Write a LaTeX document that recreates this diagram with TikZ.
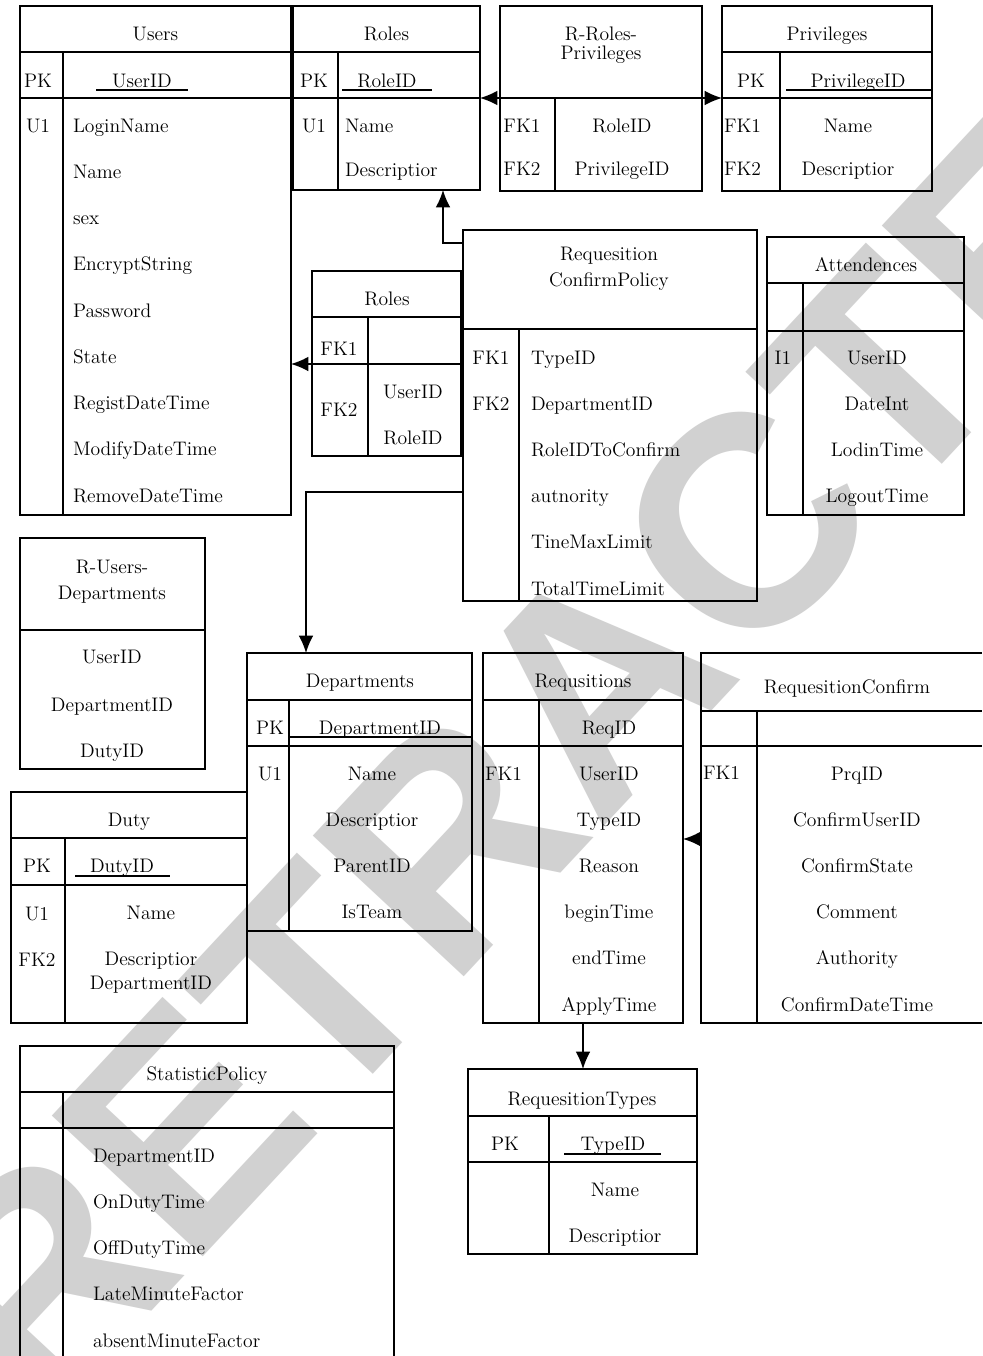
\documentclass[tikz,border=0pt]{standalone}
\usepackage{fontspec}
\newfontfamily\wmfont{Liberation Sans}
\usetikzlibrary{fit,arrows.meta}
\tikzset{
  every node/.style={inner sep=0pt, outer sep=0pt},
  txt/.style={anchor=base, yshift=-5.25pt, font=\fontsize{14.7}{17}\selectfont},
  txtw/.style={txt, anchor=base west},
  tb/.style={draw, line width=1.1pt, fit={#1}},
  ln/.style={line width=1.1pt},
  ul/.style={line width=0.8pt},
  arr/.style={line width=1.1pt, -{Latex[length=13pt,width=11pt]}},
  arrboth/.style={line width=1.1pt, {Latex[length=13pt,width=11pt]}-{Latex[length=13pt,width=11pt]}},
  wm/.style={text=black!18, font=\wmfont\bfseries\fontsize{225}{225}\selectfont},
}
\begin{document}
\begin{tikzpicture}[x=0.75pt,y=-0.75pt]
\fill[white] (0,0) rectangle (982,1356);
\useasboundingbox (0,0) rectangle (982,1356);
% watermark
\node[wm, rotate=47] (wmark) at (597,683) {RETRACTED};

% ---------------- Users
\node[tb={(20,6) (291,515)}] (users) {};
\draw[ln] (20,52) -- (291,52) (20,98) -- (291,98) (63,52) -- (63,515);
\node[txt] (users-t) at (155.5,33) {Users};
\node[txt] (users-pk) at (38,80) {PK};
\node[txt] (users-id) at (142,80) {UserID};
\draw[ul] (96,90) -- (188,90);
\node[txt] (users-u1) at (38,125) {U1};
\foreach \t [count=\i] in {LoginName,Name,sex,EncryptString,Password,State,RegistDateTime,ModifyDateTime,RemoveDateTime}
  \node[txtw] (users-f\i) at (73,{125+46.25*(\i-1)}) {\t};

% ---------------- Roles
\node[tb={(293,6) (480,190)}] (roles) {};
\draw[ln] (293,52) -- (480,52) (293,98) -- (480,98) (338,52) -- (338,190);
\node[txt] (roles-t) at (386.5,33) {Roles};
\node[txt] (roles-pk) at (314,80) {PK};
\node[txt] (roles-id) at (387,80) {RoleID};
\draw[ul] (342,90) -- (432,90);
\node[txt] (roles-u1) at (314,125) {U1};
\node[txtw] (roles-f1) at (345,125) {Name};
\node[txtw] (roles-f2) at (345,169) {Descriptior};

% ---------------- R-Roles-Privileges
\node[tb={(500,6) (702,191)}] (rrp) {};
\draw[ln] (500,98) -- (702,98) (555,98) -- (555,191);
\node[txt] (rrp-t1) at (601,33) {R-Roles-};
\node[txt] (rrp-t2) at (601,52) {Privileges};
\node[txt] (rrp-k1) at (522,125) {FK1};
\node[txt] (rrp-f1) at (622,125) {RoleID};
\node[txt] (rrp-k2) at (522,168) {FK2};
\node[txt] (rrp-f2) at (622,168) {PrivilegeID};

% ---------------- Privileges
\node[tb={(722,6) (932,191)}] (priv) {};
\draw[ln] (722,52) -- (932,52) (722,98) -- (932,98) (780,52) -- (780,191);
\node[txt] (priv-t) at (827,33) {Privileges};
\node[txt] (priv-pk) at (751,80) {PK};
\node[txt] (priv-id) at (858,80) {PrivilegeID};
\draw[ul] (786,90) -- (932,90);
\node[txtw] (priv-k1) at (724,125) {FK1};
\node[txt] (priv-f1) at (848,125) {Name};
\node[txtw] (priv-k2) at (724,168) {FK2};
\node[txt] (priv-f2) at (848,168) {Descriptior};

% ---------------- Requesition ConfirmPolicy
\node[tb={(463,230) (757,601)}] (rcp) {};
\draw[ln] (463,329) -- (757,329) (519,329) -- (519,601);
\node[txt] (rcp-t1) at (609,253) {Requesition};
\node[txt] (rcp-t2) at (609,279) {ConfirmPolicy};
\node[txt] (rcp-k1) at (491,357) {FK1};
\node[txt] (rcp-k2) at (491,403) {FK2};
\foreach \t [count=\i] in {TypeID,DepartmentID,RoleIDToConfirm,autnority,TineMaxLimit,TotalTimeLimit}
  \node[txtw] (rcp-f\i) at (531,{357+46.2*(\i-1)}) {\t};

% ---------------- Roles (second)
\node[tb={(312,271) (461,456)}] (roles2) {};
\draw[ln] (312,317) -- (461,317) (312,364) -- (461,364) (368,317) -- (368,456);
\node[txt] (roles2-t) at (387,298) {Roles};
\node[txt] (roles2-k1) at (339,348) {FK1};
\node[txt] (roles2-k2) at (339,409) {FK2};
\node[txt] (roles2-f1) at (413,391) {UserID};
\node[txt] (roles2-f2) at (413,437) {RoleID};

% ---------------- Attendences
\node[tb={(767,237) (964,515)}] (att) {};
\draw[ln] (767,283) -- (964,283) (767,331) -- (964,331) (803,283) -- (803,515);
\node[txt] (att-t) at (866,264) {Attendences};
\node[txt] (att-i1) at (783,357) {I1};
\foreach \t [count=\i] in {UserID,DateInt,LodinTime,LogoutTime}
  \node[txt] (att-f\i) at (877,{357+46*(\i-1)}) {\t};

% ---------------- R-Users-Departments
\node[tb={(20,538) (205,769)}] (rud) {};
\draw[ln] (20,630) -- (205,630);
\node[txt] (rud-t1) at (112,566) {R-Users-};
\node[txt] (rud-t2) at (112,592) {Departments};
\node[txt] (rud-f1) at (112,656) {UserID};
\node[txt] (rud-f2) at (112,704) {DepartmentID};
\node[txt] (rud-f3) at (112,750) {DutyID};

% ---------------- Departments
\node[tb={(247,653) (472,931)}] (dept) {};
\draw[ln] (247,700) -- (472,700) (247,746) -- (472,746) (289,700) -- (289,931);
\node[txt] (dept-t) at (360,680) {Departments};
\node[txt] (dept-pk) at (270,727) {PK};
\node[txt] (dept-id) at (380,727) {DepartmentID};
\draw[ul] (290,737) -- (471,737);
\node[txt] (dept-u1) at (270,773) {U1};
\foreach \t [count=\i] in {Name,Descriptior,ParentID,IsTeam}
  \node[txt] (dept-f\i) at (372,{773+46.3*(\i-1)}) {\t};

% ---------------- Duty
\node[tb={(11,792) (247,1023)}] (duty) {};
\draw[ln] (11,838) -- (247,838) (11,885) -- (247,885) (65,838) -- (65,1023);
\node[txt] (duty-t) at (129,819) {Duty};
\node[txt] (duty-pk) at (37,865) {PK};
\node[txt] (duty-id) at (122,865) {DutyID};
\draw[ul] (75,876) -- (170,876);
\node[txt] (duty-u1) at (37,913) {U1};
\node[txt] (duty-f1) at (151,912) {Name};
\node[txt] (duty-k2) at (37,959) {FK2};
\node[txt] (duty-f2) at (151,958) {Descriptior};
\node[txt] (duty-f3) at (151,982) {DepartmentID};

% ---------------- Requsitions
\node[tb={(483,653) (683,1023)}] (reqs) {};
\draw[ln] (483,700) -- (683,700) (483,746) -- (683,746) (539,700) -- (539,1023);
\node[txt] (reqs-t) at (583,680) {Requsitions};
\node[txt] (reqs-id) at (609,727) {ReqID};
\node[txtw] (reqs-k1) at (485,773) {FK1};
\foreach \t [count=\i] in {UserID,TypeID,Reason,beginTime,endTime,ApplyTime}
  \node[txt] (reqs-f\i) at (609,{773+46.2*(\i-1)}) {\t};

% ---------------- RequesitionConfirm
\node[fit={(701,653) (982,1023)}] (rc) {};
\draw[ln] (982,653) -- (701,653) -- (701,1023) -- (982,1023)
  (701,711) -- (982,711) (701,746) -- (982,746) (757,711) -- (757,1023);
\node[txt] (rc-t) at (847,686) {RequesitionConfirm};
\node[txtw] (rc-k1) at (703,772) {FK1};
\foreach \t [count=\i] in {PrqID,ConfirmUserID,ConfirmState,Comment,Authority,ConfirmDateTime}
  \node[txt] (rc-f\i) at (857,{773+46.2*(\i-1)}) {\t};

% ---------------- RequesitionTypes
\node[tb={(468,1069) (697,1254)}] (rt) {};
\draw[ln] (468,1116) -- (697,1116) (468,1162) -- (697,1162) (549,1116) -- (549,1254);
\node[txt] (rt-t) at (582,1098) {RequesitionTypes};
\node[txt] (rt-pk) at (505,1143) {PK};
\node[txt] (rt-id) at (613,1143) {TypeID};
\draw[ul] (564,1154) -- (661,1154);
\node[txt] (rt-f1) at (615,1189) {Name};
\node[txt] (rt-f2) at (615,1235) {Descriptior};

% ---------------- StatisticPolicy
\node[fit={(20,1046) (394,1356)}] (sp) {};
\draw[ln] (20,1356) -- (20,1046) -- (394,1046) -- (394,1356)
  (20,1092) -- (394,1092) (20,1128) -- (394,1128) (63,1092) -- (63,1356);
\node[txt] (sp-t) at (207,1073) {StatisticPolicy};
\foreach \t [count=\i] in {DepartmentID,OnDutyTime,OffDutyTime,LateMinuteFactor,absentMinuteFactor}
  \node[txtw] (sp-f\i) at (93,{1155+46.25*(\i-1)}) {\t};

% ---------------- connectors
\coordinate (yA) at (0,98);
\coordinate (cB) at (443,243);
\coordinate (yC) at (0,364);
\coordinate (cD) at (306,492);
\coordinate (yE) at (0,839);
\draw[arrboth] (roles.east |- yA) -- (priv.west |- yA);
\draw[arr] (rcp.west |- cB) -- (cB) -- (cB |- roles.south);
\draw[arr] (roles2.west |- yC) -- (users.east |- yC);
\draw[arr] (rcp.west |- cD) -- (cD) -- (cD |- dept.north);
\draw[arr] (rc.west |- yE) -- (reqs.east |- yE);
\draw[arr] (reqs.south) -- (reqs.south |- rt.north);
\end{tikzpicture}
\end{document}
